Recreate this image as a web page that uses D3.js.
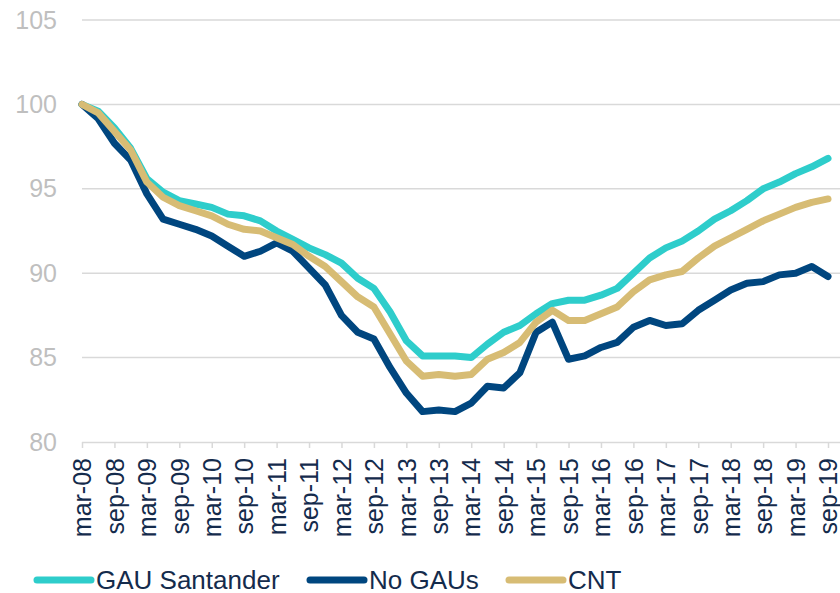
<!DOCTYPE html>
<html>
<head>
<meta charset="utf-8">
<script src="https://cdn.jsdelivr.net/npm/d3@7"></script>
<style>
  body { margin: 0; background: #fff; }
  svg { display: block; font-family: Arial, "Liberation Sans", sans-serif; }
</style>
</head>
<body>
<div id="chart"></div>
<script>
// quarterly categories, mar-08 .. sep-19
const quarters = [
  'mar-08', 'jun-08', 'sep-08', 'dec-08',
  'mar-09', 'jun-09', 'sep-09', 'dec-09',
  'mar-10', 'jun-10', 'sep-10', 'dec-10',
  'mar-11', 'jun-11', 'sep-11', 'dec-11',
  'mar-12', 'jun-12', 'sep-12', 'dec-12',
  'mar-13', 'jun-13', 'sep-13', 'dec-13',
  'mar-14', 'jun-14', 'sep-14', 'dec-14',
  'mar-15', 'jun-15', 'sep-15', 'dec-15',
  'mar-16', 'jun-16', 'sep-16', 'dec-16',
  'mar-17', 'jun-17', 'sep-17', 'dec-17',
  'mar-18', 'jun-18', 'sep-18', 'dec-18',
  'mar-19', 'jun-19', 'sep-19'
];

const gauSantander = [
  100, 99.6, 98.6, 97.4, 95.6, 94.8, 94.3, 94.1, 93.9, 93.5, 93.4, 93.1,
  92.5, 92.0, 91.5, 91.1, 90.6, 89.7, 89.1, 87.7, 86.0, 85.1, 85.1, 85.1,
  85.0, 85.8, 86.5, 86.9, 87.6, 88.2, 88.4, 88.4, 88.7, 89.1, 90.0, 90.9,
  91.5, 91.9, 92.5, 93.2, 93.7, 94.3, 95.0, 95.4, 95.9, 96.3, 96.8
];

const noGaus = [
  100, 99.15, 97.7, 96.7, 94.7, 93.2, 92.9, 92.6, 92.2, 91.6, 91.0, 91.3,
  91.8, 91.3, 90.3, 89.3, 87.5, 86.5, 86.1, 84.4, 82.9, 81.8, 81.9, 81.8,
  82.3, 83.3, 83.2, 84.1, 86.5, 87.1, 84.9, 85.1, 85.6, 85.9, 86.8, 87.2,
  86.9, 87.0, 87.8, 88.4, 89.0, 89.4, 89.5, 89.9, 90.0, 90.4, 89.8
];

const cnt = [
  100, 99.5, 98.4, 97.3, 95.4, 94.5, 94.0, 93.7, 93.4, 92.9, 92.6, 92.5,
  92.1, 91.7, 91.0, 90.4, 89.5, 88.6, 88.0, 86.4, 84.8, 83.9, 84.0, 83.9,
  84.0, 84.9, 85.3, 85.9, 87.1, 87.8, 87.2, 87.2, 87.6, 88.0, 88.9, 89.6,
  89.9, 90.1, 90.9, 91.6, 92.1, 92.6, 93.1, 93.5, 93.9, 94.2, 94.4
];

const yTicks = [80, 85, 90, 95, 100, 105];

const series = [
  { name: 'GAU Santander', values: gauSantander, color: '#2ECDCB' },
  { name: 'No GAUs', values: noGaus, color: '#00467F' },
  { name: 'CNT', values: cnt, color: '#D7BC74' }
];

const width = 840;
const height = 593;

const xScale = d3.scalePoint()
  .domain(quarters)
  .range([82, 828]);

const yScale = d3.scaleLinear()
  .domain([80, 105])
  .range([442, 20]);

const svg = d3.select('#chart').append('svg')
  .attr('width', width)
  .attr('height', height);

// gridlines
svg.append('g')
  .selectAll('line')
  .data(yTicks.slice(1))
  .enter().append('line')
  .attr('x1', 82)
  .attr('x2', width)
  .attr('y1', d => yScale(d))
  .attr('y2', d => yScale(d))
  .attr('stroke', '#D9D9D9')
  .attr('stroke-width', 1.5);

// y axis labels
const yAxis = svg.append('g')
  .attr('transform', 'translate(82,0)')
  .call(d3.axisLeft(yScale).tickValues(yTicks).tickSize(0).tickPadding(25));
yAxis.select('.domain').remove();
yAxis.selectAll('text')
  .attr('font-size', 25)
  .attr('font-family', 'Arial, "Liberation Sans", sans-serif')
  .attr('fill', '#BFBFBF');

// x axis, tick every second quarter
const xAxis = svg.append('g')
  .attr('transform', 'translate(0,' + yScale(80) + ')')
  .call(d3.axisBottom(xScale)
    .tickValues(quarters.filter((q, i) => i % 2 === 0))
    .tickSizeInner(6)
    .tickSizeOuter(0));
xAxis.select('.domain')
  .attr('d', 'M82,0.5H' + width)
  .attr('stroke', '#D9D9D9')
  .attr('stroke-width', 1.5);
xAxis.selectAll('.tick line')
  .attr('stroke', '#D9D9D9')
  .attr('stroke-width', 1.5);
xAxis.selectAll('.tick text')
  .attr('font-size', 25)
  .attr('font-family', 'Arial, "Liberation Sans", sans-serif')
  .attr('fill', '#142B4C')
  .attr('transform', 'rotate(-90)')
  .attr('text-anchor', 'end')
  .attr('x', -16)
  .attr('y', 0)
  .attr('dy', '0.35em');

const line = d3.line()
  .x((d, i) => xScale(quarters[i]))
  .y(d => yScale(d));

svg.append('g')
  .selectAll('path')
  .data(series)
  .enter().append('path')
  .attr('fill', 'none')
  .attr('stroke', d => d.color)
  .attr('stroke-width', 7)
  .attr('stroke-linejoin', 'round')
  .attr('stroke-linecap', 'round')
  .attr('d', d => line(d.values));

// legend
const legendX = [35, 308, 507];
const legend = svg.append('g')
  .attr('transform', 'translate(0,580)');
const item = legend.selectAll('g')
  .data(series)
  .enter().append('g')
  .attr('transform', (d, i) => 'translate(' + legendX[i] + ',0)');
item.append('line')
  .attr('x1', 2)
  .attr('x2', 56)
  .attr('stroke', d => d.color)
  .attr('stroke-width', 7)
  .attr('stroke-linecap', 'round');
item.append('text')
  .attr('x', 61)
  .attr('dy', '0.35em')
  .attr('font-size', 26)
  .attr('fill', '#142B4C')
  .text(d => d.name);
</script>
</body>
</html>
